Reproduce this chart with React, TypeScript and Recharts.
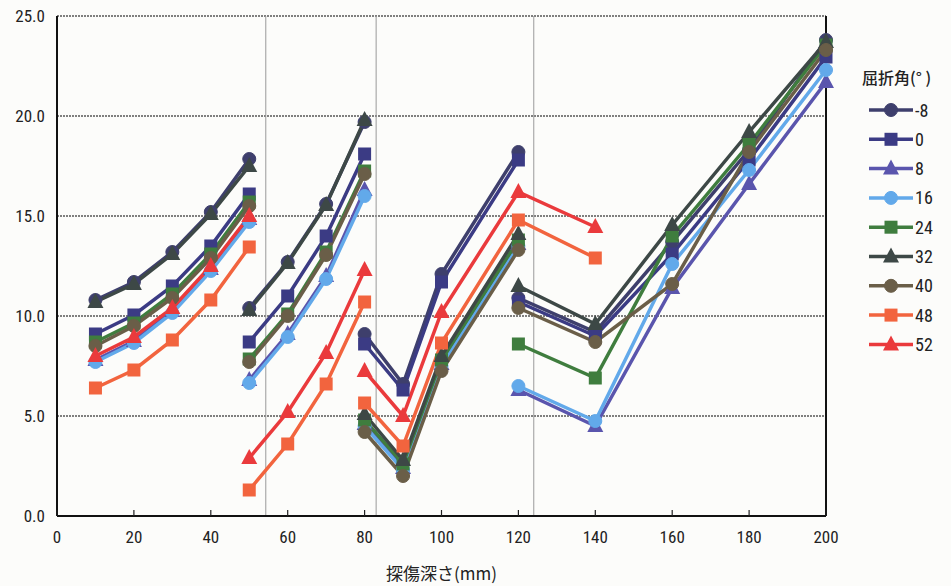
import React from "react";
import { LineChart, Line, XAxis, YAxis, CartesianGrid, ReferenceLine } from "recharts";

// depth positions (mm) for each measured run
const depthA = [10, 20, 30, 40, 50];
const depthB = [50, 60, 70, 80];
const depthC = [80, 90, 100, 120];
const depthCLong = [80, 90, 100, 120, 140];
const depthD = [120, 140, 160, 180, 200];

// refraction angle labels (degrees)
const angleLabels = ["-8", "0", "8", "16", "24", "32", "40", "48", "52"];

// readings per angle, one array per run
const angleM8 = [[10.8, 11.7, 13.2, 15.2, 17.85], [10.4, 12.7, 15.6, 19.7], [9.1, 6.6, 12.1, 18.2], [10.9, 9.2, 13.7, 18.3, 23.8]];
const angle0 = [[9.1, 10.05, 11.5, 13.5, 16.1], [8.7, 11.0, 14.0, 18.1], [8.6, 6.3, 11.7, 17.8], [10.7, 9.0, 13.1, 17.8, 22.95]];
const angle8 = [[7.8, 8.75, 10.25, 12.35, 14.85], [6.8, 9.1, 12.0, 16.3], [4.6, 2.4, 7.6, 13.6], [6.3, 4.5, 11.4, 16.6, 21.7]];
const angle16 = [[7.7, 8.65, 10.15, 12.25, 14.7], [6.65, 8.95, 11.85, 16.0], [4.5, 2.3, 7.5, 13.5], [6.5, 4.75, 12.6, 17.3, 22.3]];
const angle24 = [[8.7, 9.65, 11.1, 13.1, 15.7], [7.85, 10.1, 13.2, 17.25], [4.8, 2.6, 7.8, 13.8], [8.6, 6.9, 14.0, 18.6, 23.55]];
const angle32 = [[10.7, 11.6, 13.1, 15.1, 17.5], [10.3, 12.65, 15.55, 19.8], [5.1, 2.8, 8.0, 14.1], [11.5, 9.6, 14.55, 19.2, 23.7]];
const angle40 = [[8.5, 9.5, 10.9, 12.9, 15.5], [7.7, 10.0, 13.05, 17.1], [4.2, 2.0, 7.25, 13.3], [10.4, 8.7, 11.6, 18.2, 23.3]];
const angle48 = [[6.4, 7.3, 8.8, 10.8, 13.45], [1.3, 3.6, 6.6, 10.7], [5.65, 3.5, 8.65, 14.8, 12.9]];
const angle52 = [[8.0, 8.95, 10.4, 12.5, 15.0], [2.9, 5.2, 8.15, 12.3], [7.25, 5.0, 10.2, 16.2, 14.45]];

const xTicks = [0, 20, 40, 60, 80, 100, 120, 140, 160, 180, 200];
const yTicks = [0, 5, 10, 15, 20, 25];
const guideX = [54.3, 83, 124];

const runsShort = [depthA, depthB, depthC, depthD];
const runsLong = [depthA, depthB, depthCLong];

type Shape = "circle" | "square" | "triangle";
const styles: { color: string; shape: Shape }[] = [
  { color: "#3e3f6c", shape: "circle" },
  { color: "#3b3b84", shape: "square" },
  { color: "#5a55ad", shape: "triangle" },
  { color: "#62a9ea", shape: "circle" },
  { color: "#3f7d3e", shape: "square" },
  { color: "#3d4846", shape: "triangle" },
  { color: "#6a5e48", shape: "circle" },
  { color: "#f2643e", shape: "square" },
  { color: "#ea3a3c", shape: "triangle" },
];

const values = [angleM8, angle0, angle8, angle16, angle24, angle32, angle40, angle48, angle52];

const series = angleLabels.map((label, i) => {
  const runs = values[i].length === 4 ? runsShort : runsLong;
  return {
    label,
    ...styles[i],
    segments: values[i].map((vals, j) => vals.map((v, k) => ({ x: runs[j][k], y: v }))),
  };
});

const NUM_FONT = "'Liberation Sans Narrow', 'Roboto Condensed', 'Liberation Sans', Arial, sans-serif";
const JP_FONT = "'Noto Sans CJK JP', 'Noto Sans', sans-serif";

const Marker = ({ cx, cy, color, shape }: { cx: number; cy: number; color: string; shape: Shape }) => {
  if (cx == null || cy == null) return null;
  if (shape === "circle") return <circle cx={cx} cy={cy} r={6.5} fill={color} stroke={color} />;
  if (shape === "square") return <rect x={cx - 6.5} y={cy - 6.5} width={13} height={13} fill={color} />;
  return <path d={`M${cx},${cy - 9} L${cx + 8},${cy + 6} L${cx - 8},${cy + 6} Z`} fill={color} />;
};

const XTick = (props: any) => {
  const { x, y, payload } = props;
  return (
    <g>
      <line x1={x} x2={x} y1={y} y2={y - 6} stroke="#222" strokeWidth={1.2} />
      <text x={x} y={y + 27} textAnchor="middle" fontSize={17} fill="#222" fontFamily={NUM_FONT}>
        {payload.value}
      </text>
    </g>
  );
};

const LegendBox = () => (
  <svg width={951} height={586} style={{ position: "absolute", left: 0, top: 0, pointerEvents: "none" }}>
    <text x={862} y={84} fontSize={16} fill="#222" fontFamily={JP_FONT} fontWeight={500}>
      屈折角(° )
    </text>
    {series.map((s, i) => {
      const cy = 110 + i * 29.3;
      return (
        <g key={s.label}>
          <line x1={869} x2={913} y1={cy} y2={cy} stroke={s.color} strokeWidth={3.5} />
          <Marker cx={891} cy={cy} color={s.color} shape={s.shape} />
          <text x={915} y={cy + 6.5} fontSize={18} fill="#222" fontFamily={NUM_FONT}>
            {s.label}
          </text>
        </g>
      );
    })}
  </svg>
);

export default function App() {
  return (
    <div style={{ position: "absolute", left: 0, top: 0, width: 951, height: 586, background: "#fcfcfa" }}>
      <LineChart width={951} height={586} margin={{ top: 16, right: 125, left: 0, bottom: 0 }}>
        <CartesianGrid vertical={false} stroke="#555" strokeDasharray="2 1" strokeWidth={1.3} />
        <XAxis
          type="number"
          dataKey="x"
          domain={[0, 200]}
          ticks={xTicks}
          height={70}
          tickSize={0}
          tickMargin={0}
          tick={<XTick />}
          axisLine={{ stroke: "#111", strokeWidth: 2 }}
          tickLine={false}
          label={{ value: "探傷深さ(mm)", position: "insideBottom", offset: 6, fontSize: 17, fill: "#222", fontFamily: JP_FONT }}
        />
        <YAxis
          type="number"
          domain={[0, 25]}
          ticks={yTicks}
          width={57}
          tickSize={0}
          tickMargin={12}
          tickLine={false}
          axisLine={{ stroke: "#111", strokeWidth: 2 }}
          tickFormatter={(v: number) => v.toFixed(1)}
          tick={{ fontSize: 17, fill: "#222", fontFamily: NUM_FONT }}
        />
        {guideX.map((g) => (
          <ReferenceLine key={g} x={g} stroke="#9a9a9a" strokeWidth={1} />
        ))}
        <ReferenceLine x={200} stroke="#111" strokeWidth={2} />
        {series.map((s) =>
          s.segments.map((seg, j) => (
            <Line
              key={`${s.label}-${j}`}
              data={seg}
              dataKey="y"
              type="linear"
              stroke={s.color}
              strokeWidth={3.5}
              isAnimationActive={false}
              dot={(p: any) => <Marker key={`${s.label}-${j}-${p.index}`} cx={p.cx} cy={p.cy} color={s.color} shape={s.shape} />}
              activeDot={false}
            />
          ))
        )}
      </LineChart>
      <LegendBox />
    </div>
  );
}
